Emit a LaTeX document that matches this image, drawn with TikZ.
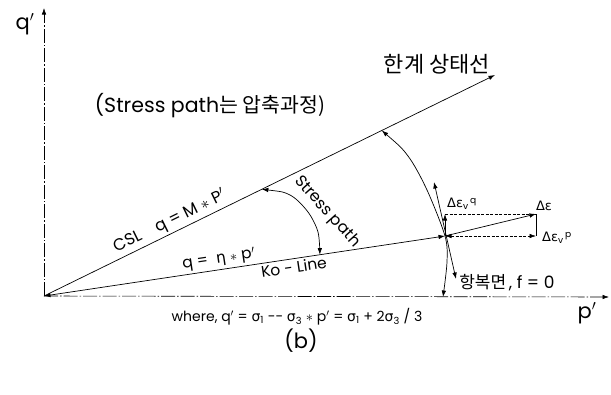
\documentclass[tikz,border=0pt]{standalone}
\usepackage{fontspec}
\setmainfont{Poppins}
\newfontfamily\kr{Noto Sans CJK KR}
\newfontfamily\gr{DejaVu Sans}
\usetikzlibrary{arrows.meta,calc}
\newcommand{\fs}[1]{\fontsize{#1}{#1}\selectfont}
\newcommand{\sig}[1]{{\gr σ}\textsubscript{#1}}
\newcommand{\dev}[1]{{\gr Δε}\textsubscript{v}\textsuperscript{\,#1}}
\begin{document}
\begin{tikzpicture}[x=1pt,y=-1pt,line width=0.7pt,
  >={Latex[length=6.5pt,width=4.5pt]},
  axisline/.style={line width=0.6pt,dash pattern=on 14pt off 2pt on 1.5pt off 2pt},
  thindash/.style={line width=0.6pt,dash pattern=on 3pt off 1.5pt},
  every node/.style={inner sep=1pt}]
\useasboundingbox (0,0) rectangle (611,394);
% key points
\coordinate (O) at (44,296);
\coordinate (Qtop) at (44,8);
\coordinate (Pend) at (609,297);
\coordinate (C) at (495,75);
\coordinate (X) at (445,236);
\coordinate (E) at (536,214);
\coordinate (Eq) at (445,214);
\coordinate (Ep) at (536,236);
\coordinate (T1) at (434,182);
\coordinate (T2) at (456,279);
\coordinate (YT) at ($(O)!0.749!(C)$);
\coordinate (YB) at (443,297);
\coordinate (ST) at ($(O)!0.483!(C)$);
\coordinate (SB) at ($(O)!0.688!(X)$);
% axes
\draw[axisline,->] (O) -- (Qtop);
\draw[axisline,->] (O) -- (Pend);
\node (ql) at (25,24) {\fs{21}q$'$};
\node (pl) at (587,313) {\fs{21}p$'$};
% CSL and Ko-line
\draw[->] (O) -- (C);
\draw[<->] (O) -- (X);
\path (O) -- (C) node[pos=0.29,sloped,above=1.5pt] (csl) {\fs{16.5}CSL\quad q = M $*$ P$'$};
\path (O) -- (X) node[pos=0.44,sloped,above=1pt] (eta) {\fs{15.5}q =\ \ {\gr η} $*$ p$'$};
\path (O) -- (X) node[pos=0.62,sloped,below=1pt] (ko) {\fs{15.5}Ko - Line};
\node (csltxt) at (437,64) {\kr\fs{22}한계 상태선};
\node (note) at (210,106) {\fs{20.5}(Stress path{\kr 는 압축과정)}};
% stress path
\draw[<->] plot[smooth] coordinates {(ST) (290,195) (308,212) (318,232) (SB)};
\node[rotate=-48] (sp) at (327,212) {\fs{16}Stress path};
% yield surface
\draw[<->] plot[smooth] coordinates {(YT) (408,156) (427,190) (445,236) (447,262) (YB)};
\draw[<->] (T1) -- (T2);
\node[anchor=west] (yl) at (458,283) {{\kr\fs{17}항복면} \fs{17}, f = 0};
% strain increments
\draw[->] (X) -- (E);
\draw[->] (X) -- (Eq);
\draw[thindash] (Eq) -- (E);
\draw (E) -- (Ep);
\draw[thindash,<->] (X) -- (Ep);
\node (deq) at (462,204) {\fs{13}\dev{q}};
\node (de) at (544,206) {\fs{13}{\gr Δε}};
\node (dep) at (557,238) {\fs{13}\dev{p}};
% caption
\node (where) at (297,317) {\fs{14}where, q$'$ = \sig{1} -{}- \sig{3} $*$ p$'$ = \sig{1} + 2\sig{3} / 3};
\node (b) at (301,341) {\fs{21}(b)};
\end{tikzpicture}
\end{document}
